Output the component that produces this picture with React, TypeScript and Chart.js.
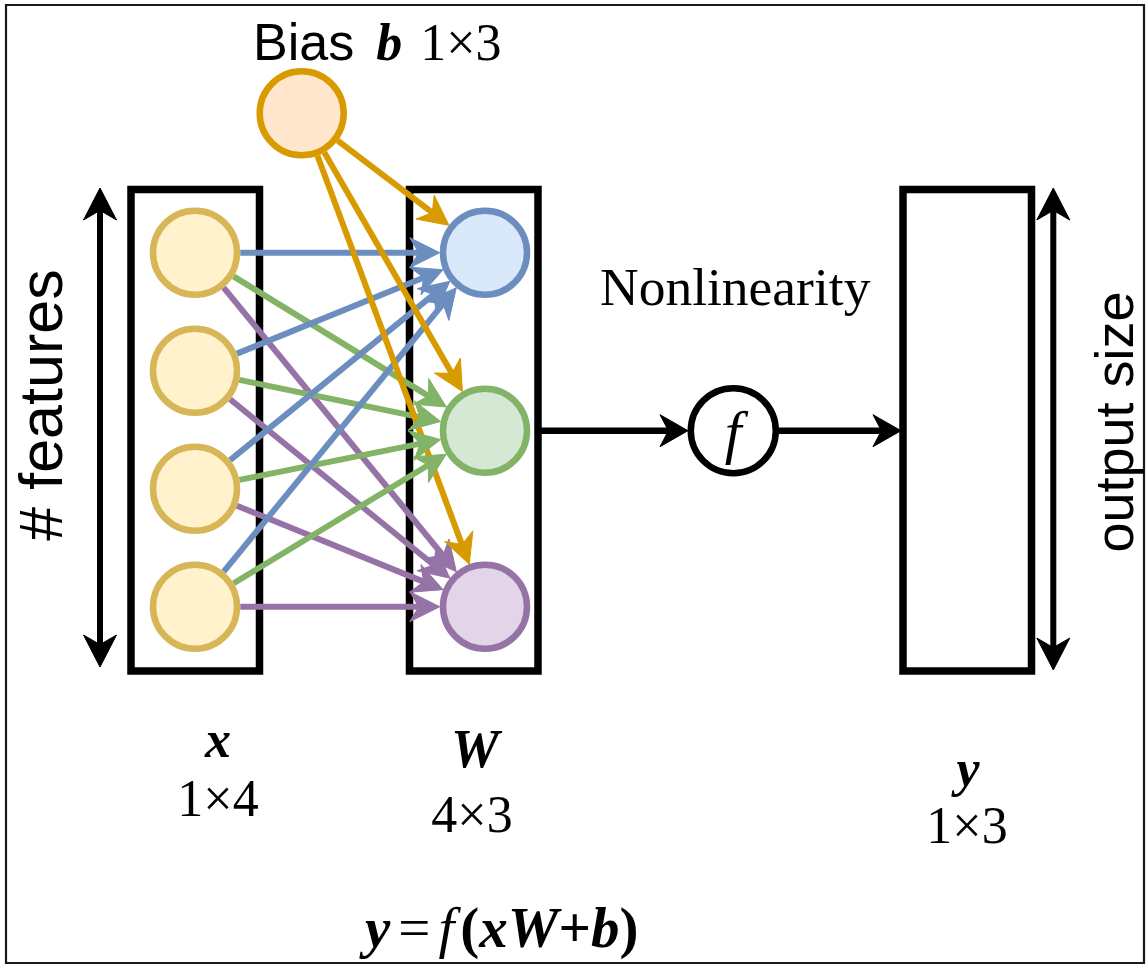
import React, { useEffect, useRef } from "react";
import { Chart, registerables } from "chart.js";

Chart.register(...registerables);

const CANVAS_W = 1147;
const CANVAS_H = 964;

// ---------- Diagram data (diagram units, mapped through the chart's linear scales) ----------
const inputNodeX = 195;
const inputNodeY = [252.7, 370.7, 488.7, 606.7];
const weightNodeX = 485;
const weightNodeY = [252.7, 430.7, 606.7];
const biasNodeXY = [301.7, 113.3];
const activationXY = [733.3, 430.7];

const inputBox = [131, 189.5, 259.5, 671];
const weightBox = [409.5, 189.5, 538, 671];
const outputBox = [903, 189.5, 1031.5, 671];
const frameBox = [6, 5, 1144, 963];

const featuresArrowX = 100;
const featuresArrowY = [188, 667];
const outputArrowX = 1053.3;
const outputArrowY = [188, 670];

const flowArrowY = 430.7;
const flowArrowFromBox = [538, 688];
const flowArrowToOutput = [779, 901];

// ---------- Colours ----------
const inputFill = "#fff2cc";
const inputStroke = "#d6b656";
const weightFill = ["#dae8fc", "#d5e8d4", "#e1d5e7"];
const weightStroke = ["#6c8ebf", "#82b366", "#9673a6"];
const biasFill = "#ffe6cc";
const biasStroke = "#d79b00";

const SANS = '"Liberation Sans", Arial, Helvetica, sans-serif';
const SERIF = '"Liberation Serif", "Times New Roman", Times, serif';

const NODE_R = 42;
const NODE_BW = 6.5;
const NODE_OUTER = NODE_R + NODE_BW / 2;

type Pt = { x: number; y: number };
type Head = { tip: Pt; ux: number; uy: number; len: number; half: number; color: string };

function rectPath(b: number[]): Pt[] {
  const [l, t, r, bt] = b;
  const mx = (l + r) / 2;
  return [
    { x: mx, y: t },
    { x: r, y: t },
    { x: r, y: bt },
    { x: l, y: bt },
    { x: l, y: t },
    { x: mx, y: t },
  ];
}

function makeEdge(from: Pt, fromR: number, to: Pt, toR: number, color: string, width: number, len = 30, half = 15) {
  const dx = to.x - from.x;
  const dy = to.y - from.y;
  const d = Math.hypot(dx, dy);
  const ux = dx / d;
  const uy = dy / d;
  const start = { x: from.x + ux * fromR, y: from.y + uy * fromR };
  const tip = { x: to.x - ux * toR, y: to.y - uy * toR };
  const end = { x: tip.x - ux * len * 0.6, y: tip.y - uy * len * 0.6 };
  return {
    type: "scatter" as const,
    showLine: true,
    data: [start, end],
    borderColor: color,
    borderWidth: width,
    pointRadius: 0,
    borderCapStyle: "butt" as const,
    heads: [{ tip, ux, uy, len, half, color }] as Head[],
  };
}

function drawHead(ctx: CanvasRenderingContext2D, h: Head, sx: any, sy: any) {
  const tx = sx.getPixelForValue(h.tip.x);
  const ty = sy.getPixelForValue(h.tip.y);
  const ux = h.ux;
  const uy = h.uy;
  const nx = -uy;
  const ny = ux;
  const bx = tx - ux * h.len;
  const by = ty - uy * h.len;
  const kx = tx - ux * h.len * 0.7;
  const ky = ty - uy * h.len * 0.7;
  ctx.beginPath();
  ctx.moveTo(tx, ty);
  ctx.lineTo(bx + nx * h.half, by + ny * h.half);
  ctx.lineTo(kx, ky);
  ctx.lineTo(bx - nx * h.half, by - ny * h.half);
  ctx.closePath();
  ctx.fillStyle = h.color;
  ctx.strokeStyle = h.color;
  ctx.lineWidth = 1;
  ctx.lineJoin = "miter";
  ctx.fill();
  ctx.stroke();
}

type Run = { t: string; f: string; gap?: number };
type Label = { runs: Run[]; x: number; y: number; align: "left" | "center"; rotate?: boolean };

const f = (style: string, size: number, fam: string) => `${style} ${size}px ${fam}`.trim();

const labels: Label[] = [
  {
    runs: [
      { t: "Bias", f: f("", 52, SANS) },
      { t: "b", f: f("italic bold", 52, SERIF), gap: 22 },
      { t: "1×3", f: f("", 52, SERIF), gap: 18 },
    ],
    x: 253,
    y: 60,
    align: "left",
  },
  { runs: [{ t: "Nonlinearity", f: f("", 53.5, SERIF) }], x: 600, y: 305, align: "left" },
  { runs: [{ t: "x", f: f("italic bold", 52, SERIF) }], x: 218, y: 757, align: "center" },
  { runs: [{ t: "1×4", f: f("", 52, SERIF) }], x: 218, y: 816, align: "center" },
  { runs: [{ t: "W", f: f("italic bold", 54, SERIF) }], x: 475, y: 767, align: "center" },
  { runs: [{ t: "4×3", f: f("", 52, SERIF) }], x: 472, y: 832, align: "center" },
  { runs: [{ t: "y", f: f("italic bold", 52, SERIF) }], x: 968, y: 786, align: "center" },
  { runs: [{ t: "1×3", f: f("", 52, SERIF) }], x: 967, y: 843, align: "center" },
  { runs: [{ t: "f", f: f("italic", 60, SERIF) }], x: 733, y: 452, align: "center" },
  {
    runs: [
      { t: "y", f: f("italic bold", 57, SERIF) },
      { t: "=", f: f("", 57, SERIF), gap: 8 },
      { t: "f", f: f("italic", 57, SERIF), gap: 8 },
      { t: "(", f: f("bold", 57, SERIF), gap: 6 },
      { t: "xW", f: f("italic bold", 57, SERIF) },
      { t: "+", f: f("bold", 57, SERIF) },
      { t: "b", f: f("italic bold", 57, SERIF) },
      { t: ")", f: f("bold", 57, SERIF) },
    ],
    x: 365,
    y: 947,
    align: "left",
  },
  { runs: [{ t: "# features", f: f("", 61, SANS) }], x: 62, y: 405, align: "center", rotate: true },
  { runs: [{ t: "output size", f: f("", 54, SANS) }], x: 1133, y: 422, align: "center", rotate: true },
];

function drawRuns(ctx: CanvasRenderingContext2D, lb: Label, px: number, py: number) {
  const widths = lb.runs.map((r) => {
    ctx.font = r.f;
    return ctx.measureText(r.t).width;
  });
  let total = 0;
  lb.runs.forEach((r, i) => (total += widths[i] + (r.gap || 0)));
  ctx.save();
  ctx.translate(px, py);
  if (lb.rotate) ctx.rotate(-Math.PI / 2);
  let cx = lb.align === "center" ? -total / 2 : 0;
  ctx.fillStyle = "#000";
  ctx.textAlign = "left";
  ctx.textBaseline = "alphabetic";
  lb.runs.forEach((r, i) => {
    cx += r.gap || 0;
    ctx.font = r.f;
    ctx.fillText(r.t, cx, 0);
    cx += widths[i];
  });
  ctx.restore();
}

const diagramPlugin = {
  id: "diagramDecor",
  beforeDraw(chart: any) {
    const ctx = chart.ctx;
    ctx.save();
    ctx.fillStyle = "#ffffff";
    ctx.fillRect(0, 0, chart.width, chart.height);
    ctx.restore();
  },
  afterDatasetsDraw(chart: any) {
    const ctx = chart.ctx as CanvasRenderingContext2D;
    const sx = chart.scales.x;
    const sy = chart.scales.y;
    ctx.save();
    chart.data.datasets.forEach((ds: any) => {
      if (ds.heads) ds.heads.forEach((h: Head) => drawHead(ctx, h, sx, sy));
    });
    ctx.restore();
  },
  afterDraw(chart: any) {
    const ctx = chart.ctx as CanvasRenderingContext2D;
    const sx = chart.scales.x;
    const sy = chart.scales.y;
    labels.forEach((lb) => drawRuns(ctx, lb, sx.getPixelForValue(lb.x), sy.getPixelForValue(lb.y)));
  },
};

export default function App() {
  const ref = useRef<HTMLCanvasElement | null>(null);

  useEffect(() => {
    if (!ref.current) return;

    const boxDs = (b: number[], w: number, color = "#000") => ({
      type: "scatter" as const,
      showLine: true,
      data: rectPath(b),
      borderColor: color,
      borderWidth: w,
      borderJoinStyle: "miter" as const,
      pointRadius: 0,
      order: 5,
    });

    const datasets: any[] = [];
    datasets.push(boxDs(frameBox, 2.2, "#1a1a1a"));
    datasets.push(boxDs(inputBox, 7.5));
    datasets.push(boxDs(weightBox, 7.5));
    datasets.push(boxDs(outputBox, 7.5));

    // input -> weight edges (purple bottom, then green, then blue)
    const edgeOrder = [2, 1, 0];
    edgeOrder.forEach((j) => {
      inputNodeY.forEach((iy) => {
        const e: any = makeEdge(
          { x: inputNodeX, y: iy },
          NODE_OUTER,
          { x: weightNodeX, y: weightNodeY[j] },
          NODE_OUTER,
          weightStroke[j],
          6
        );
        e.order = 4 - (2 - j) * 0.1;
        datasets.push(e);
      });
    });

    // bias -> weight edges
    weightNodeY.forEach((wy) => {
      const e: any = makeEdge(
        { x: biasNodeXY[0], y: biasNodeXY[1] },
        NODE_OUTER,
        { x: weightNodeX, y: wy },
        NODE_OUTER,
        biasStroke,
        6
      );
      e.order = 3;
      datasets.push(e);
    });

    // flow arrows: weights -> f -> output
    const flow1: any = makeEdge(
      { x: flowArrowFromBox[0], y: flowArrowY },
      0,
      { x: flowArrowFromBox[1], y: flowArrowY },
      0,
      "#000",
      6.5,
      28,
      16
    );
    const flow2: any = makeEdge(
      { x: flowArrowToOutput[0], y: flowArrowY },
      0,
      { x: flowArrowToOutput[1], y: flowArrowY },
      0,
      "#000",
      6.5,
      28,
      16
    );
    flow1.order = 3;
    flow2.order = 3;
    datasets.push(flow1, flow2);

    // vertical double arrows
    const dbl = (x: number, ys: number[]) => {
      const len = 32;
      const half = 16.5;
      return {
        type: "scatter" as const,
        showLine: true,
        data: [
          { x, y: ys[0] + len * 0.6 },
          { x, y: ys[1] - len * 0.6 },
        ],
        borderColor: "#000",
        borderWidth: 6,
        pointRadius: 0,
        order: 3,
        heads: [
          { tip: { x, y: ys[0] }, ux: 0, uy: -1, len, half, color: "#000" },
          { tip: { x, y: ys[1] }, ux: 0, uy: 1, len, half, color: "#000" },
        ],
      };
    };
    datasets.push(dbl(featuresArrowX, featuresArrowY));
    datasets.push(dbl(outputArrowX, outputArrowY));

    // nodes
    const nodePts: Pt[] = [];
    const nodeFill: string[] = [];
    const nodeStroke: string[] = [];
    inputNodeY.forEach((y) => {
      nodePts.push({ x: inputNodeX, y });
      nodeFill.push(inputFill);
      nodeStroke.push(inputStroke);
    });
    weightNodeY.forEach((y, j) => {
      nodePts.push({ x: weightNodeX, y });
      nodeFill.push(weightFill[j]);
      nodeStroke.push(weightStroke[j]);
    });
    nodePts.push({ x: biasNodeXY[0], y: biasNodeXY[1] });
    nodeFill.push(biasFill);
    nodeStroke.push(biasStroke);

    datasets.push({
      type: "scatter",
      data: nodePts,
      pointRadius: NODE_R,
      pointBorderWidth: NODE_BW,
      pointBackgroundColor: nodeFill,
      pointBorderColor: nodeStroke,
      showLine: false,
      order: 1,
    });

    datasets.push({
      type: "scatter",
      data: [{ x: activationXY[0], y: activationXY[1] }],
      pointRadius: 42.5,
      pointBorderWidth: 6.5,
      pointBackgroundColor: "#ffffff",
      pointBorderColor: "#000000",
      showLine: false,
      order: 1,
    });

    const chart = new Chart(ref.current, {
      type: "scatter",
      data: { datasets },
      options: {
        animation: false,
        responsive: false,
        maintainAspectRatio: false,
        events: [],
        layout: { padding: 0, autoPadding: false },
        plugins: {
          legend: { display: false },
          tooltip: { enabled: false },
          title: { display: false },
        },
        scales: {
          x: { type: "linear", min: 0, max: CANVAS_W, display: false },
          y: { type: "linear", min: 0, max: CANVAS_H, reverse: true, display: false },
        },
      },
      plugins: [diagramPlugin],
    } as any);

    return () => chart.destroy();
  }, []);

  return (
    <div style={{ position: "absolute", left: 0, top: 0, width: CANVAS_W, height: CANVAS_H, background: "#fff" }}>
      <canvas ref={ref} width={CANVAS_W} height={CANVAS_H} style={{ display: "block", width: CANVAS_W, height: CANVAS_H }} />
    </div>
  );
}
